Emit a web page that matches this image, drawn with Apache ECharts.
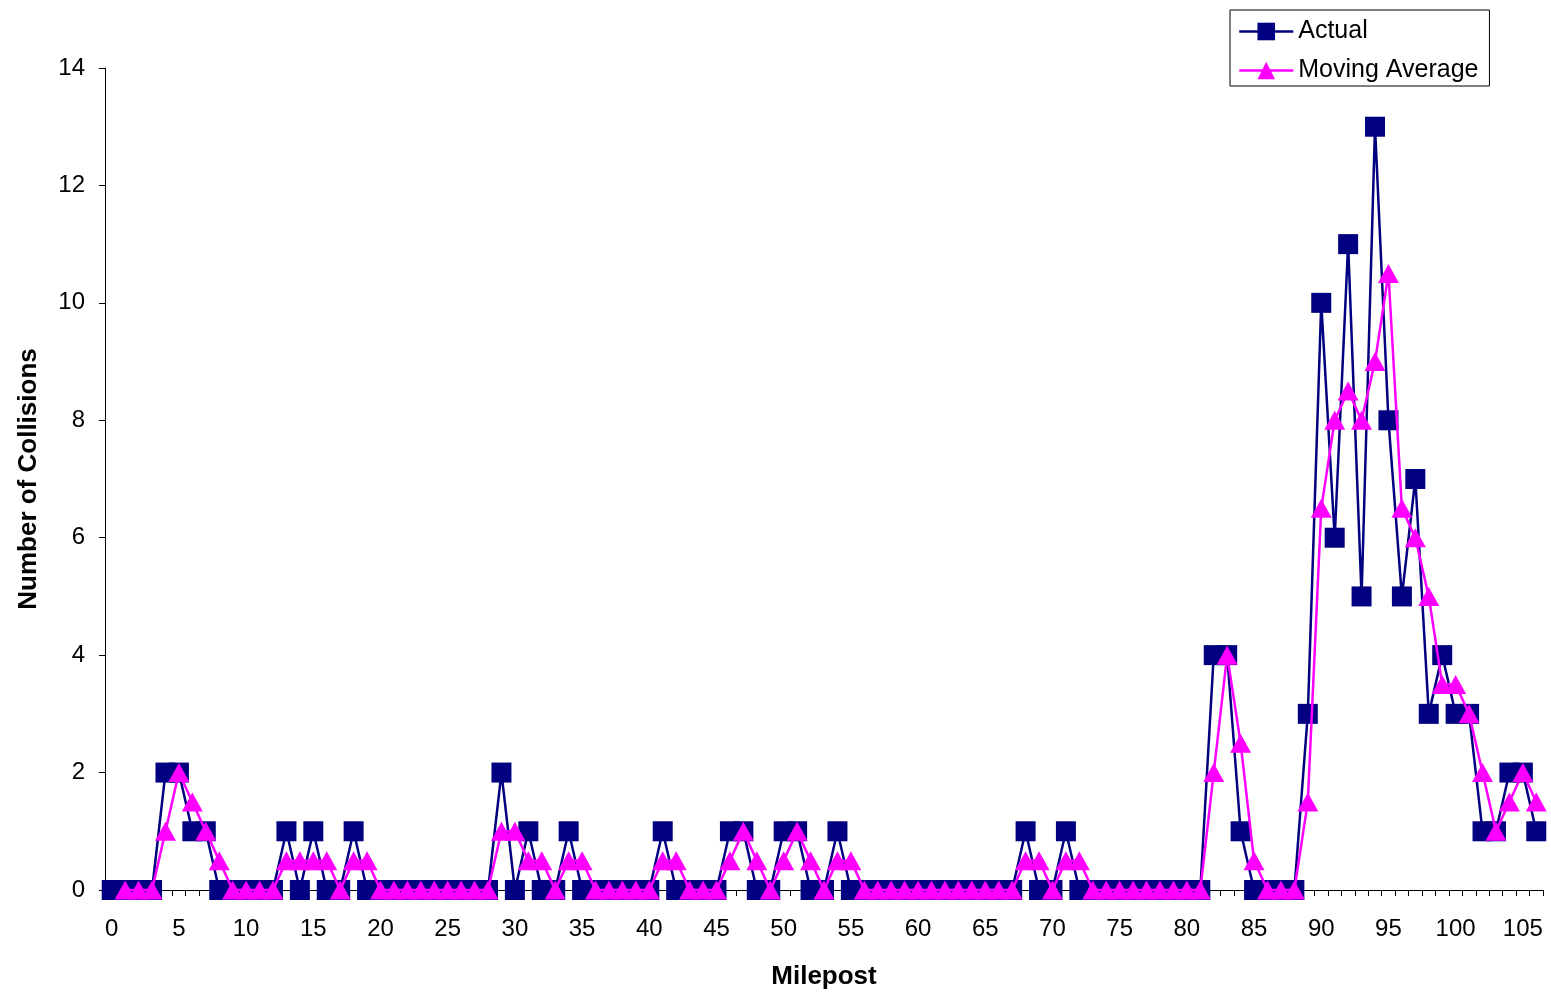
<!DOCTYPE html>
<html>
<head>
<meta charset="utf-8">
<script src="https://cdn.jsdelivr.net/npm/echarts@6/dist/echarts.min.js"></script>
<style>
html,body{margin:0;padding:0;background:#fff;}
#chart{width:1551px;height:995px;}
</style>
</head>
<body>
<div id="chart"></div>
<script>
var mileposts = ["0","1","2","3","4","5","6","7","8","9","10","11","12","13","14","15","16","17","18","19","20","21","22","23","24","25","26","27","28","29","30","31","32","33","34","35","36","37","38","39","40","41","42","43","44","45","46","47","48","49","50","51","52","53","54","55","56","57","58","59","60","61","62","63","64","65","66","67","68","69","70","71","72","73","74","75","76","77","78","79","80","81","82","83","84","85","86","87","88","89","90","91","92","93","94","95","96","97","98","99","100","101","102","103","104","105","106"];

var actual = [0,0,0,0,2,2,1,1,0,0,
  0,0,0,1,0,1,0,0,1,0,
  0,0,0,0,0,0,0,0,0,2,
  0,1,0,0,1,0,0,0,0,0,
  0,1,0,0,0,0,1,1,0,0,
  1,1,0,0,1,0,0,0,0,0,
  0,0,0,0,0,0,0,0,1,0,
  0,1,0,0,0,0,0,0,0,0,
  0,0,4,4,1,0,0,0,0,3,
  10,6,11,5,13,8,5,7,3,4,
  3,3,1,1,2,2,1];

var movingAverage = ['-',0,0,0,1,2,1.5,1,0.5,0,
  0,0,0,0.5,0.5,0.5,0.5,0,0.5,0.5,
  0,0,0,0,0,0,0,0,0,1,
  1,0.5,0.5,0,0.5,0.5,0,0,0,0,
  0,0.5,0.5,0,0,0,0.5,1,0.5,0,
  0.5,1,0.5,0,0.5,0.5,0,0,0,0,
  0,0,0,0,0,0,0,0,0.5,0.5,
  0,0.5,0.5,0,0,0,0,0,0,0,
  0,0,2,4,2.5,0.5,0,0,0,1.5,
  6.5,8,8.5,8,9,10.5,6.5,6,5,3.5,
  3.5,3,2,1,1.5,2,1.5];

var yTicks = [0,2,4,6,8,10,12,14];

var FONT = '"Liberation Sans", Arial, sans-serif';
var chart = echarts.init(document.getElementById('chart'));
chart.setOption({
  animation: false,
  backgroundColor: '#ffffff',
  textStyle: {fontFamily: FONT},
  grid: {left: 105, right: 8, top: 68, bottom: 99, containLabel: false},
  legend: {
    orient: 'vertical',
    left: 1230, top: 10,
    padding: [9, 11, 3, 8],
    itemGap: 14,
    itemWidth: 54, itemHeight: 22,
    borderColor: '#000', borderWidth: 1,
    lineStyle: {width: 2.5},
    textStyle: {fontFamily: FONT, fontSize: 25, color: '#000'},
    data: ['Actual', 'Moving Average']
  },
  xAxis: {
    type: 'category',
    data: mileposts,
    boundaryGap: true,
    name: 'Milepost',
    nameLocation: 'middle',
    nameGap: 74,
    nameTextStyle: {fontFamily: FONT, fontSize: 26, fontWeight: 'bold', color: '#000'},
    axisLine: {lineStyle: {color: '#000', width: 1}},
    axisTick: {show: true, interval: 0, length: 6, lineStyle: {color: '#000'}},
    axisLabel: {interval: 4, margin: 27, fontFamily: FONT, fontSize: 24, color: '#000'},
    splitLine: {show: false}
  },
  yAxis: {
    type: 'value',
    min: yTicks[0], max: yTicks[yTicks.length - 1], interval: 2,
    name: 'Number of Collisions',
    nameLocation: 'middle',
    nameGap: 63,
    nameTextStyle: {fontFamily: FONT, fontSize: 26, fontWeight: 'bold', color: '#000'},
    axisLine: {show: true, lineStyle: {color: '#000', width: 1}},
    axisTick: {show: true, length: 6, lineStyle: {color: '#000'}},
    axisLabel: {margin: 20, fontFamily: FONT, fontSize: 24, color: '#000'},
    splitLine: {show: false}
  },
  series: [
    {
      name: 'Actual',
      type: 'line',
      data: actual,
      symbol: 'rect',
      symbolSize: 20,
      showAllSymbol: true,
      color: '#000080',
      lineStyle: {color: '#000080', width: 2.5},
      itemStyle: {color: '#000080'},
      z: 2
    },
    {
      name: 'Moving Average',
      type: 'line',
      data: movingAverage,
      symbol: 'triangle',
      symbolSize: [21, 19],
      showAllSymbol: true,
      color: '#ff00ff',
      lineStyle: {color: '#ff00ff', width: 2.5},
      itemStyle: {color: '#ff00ff'},
      z: 3
    }
  ]
});
</script>
</body>
</html>
